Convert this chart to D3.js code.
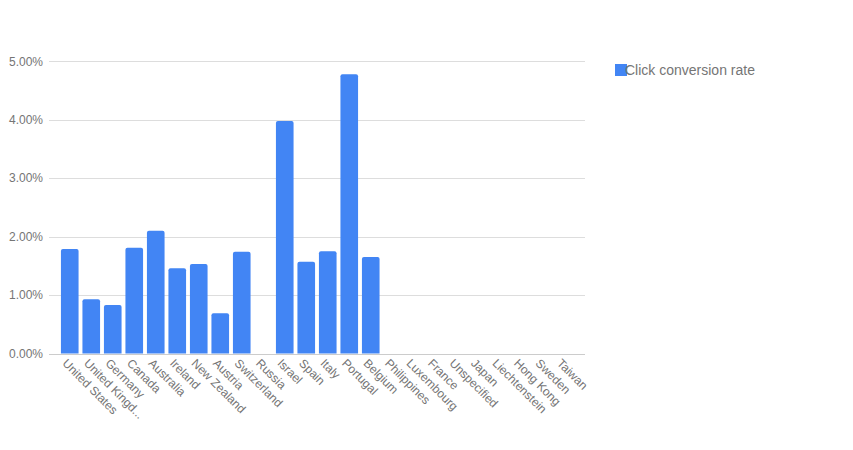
<!DOCTYPE html>
<html>
<head>
<meta charset="utf-8">
<script src="https://cdn.jsdelivr.net/npm/d3@7"></script>
<style>
  html, body { margin: 0; padding: 0; background: #fff; }
  svg { display: block; font-family: Arial, "Liberation Sans", sans-serif; }
</style>
</head>
<body>
<svg id="chart" width="853" height="450"></svg>
<script>
// Click conversion rate by country (percent)
const countries = [
  "United States", "United Kingd...", "Germany", "Canada", "Australia",
  "Ireland", "New Zealand", "Austria", "Switzerland", "Russia",
  "Israel", "Spain", "Italy", "Portugal", "Belgium",
  "Philippines", "Luxembourg", "France", "Unspecified", "Japan",
  "Liechtenstein", "Hong Kong", "Sweden", "Taiwan"
];
const conversionRate = [
  1.79, 0.93, 0.83, 1.81, 2.10,
  1.46, 1.53, 0.69, 1.74, 0,
  3.98, 1.57, 1.75, 4.78, 1.65,
  0, 0, 0, 0, 0,
  0, 0, 0, 0
];
const yTicks = [0, 1, 2, 3, 4, 5];
const seriesName = "Click conversion rate";

const svg = d3.select("#chart");
const gridLeft = 49, gridRight = 585;
const y0 = 353.5, yTop = 61.3;

const x = d3.scaleBand()
  .domain(countries)
  .range([59, 575])
  .paddingInner(0.18)
  .paddingOuter(0.09);

const y = d3.scaleLinear().domain([0, 5]).range([y0, yTop]);

// horizontal gridlines
svg.append("g").selectAll("line")
  .data(yTicks)
  .join("line")
  .attr("x1", gridLeft).attr("x2", gridRight)
  .attr("y1", d => Math.round(y(d)) + 0.5)
  .attr("y2", d => Math.round(y(d)) + 0.5)
  .attr("stroke", d => d === 0 ? "#cccccc" : "#dddddd")
  .attr("stroke-width", 1);

// y tick labels
svg.append("g").selectAll("text")
  .data(yTicks)
  .join("text")
  .attr("x", 43)
  .attr("y", d => y(d))
  .attr("dy", "0.35em")
  .attr("text-anchor", "end")
  .attr("font-size", 12)
  .attr("fill", "#757575")
  .text(d => d3.format(".2f")(d) + "%");

// bars with slightly rounded top corners
const rTop = 2;
function barPath(d, i) {
  const v = conversionRate[i];
  if (!v) return null;
  const bx = x(d), bw = x.bandwidth();
  const by = y(v), bb = y(0);
  return `M${bx},${bb}V${by + rTop}Q${bx},${by} ${bx + rTop},${by}` +
         `H${bx + bw - rTop}Q${bx + bw},${by} ${bx + bw},${by + rTop}V${bb}Z`;
}
svg.append("g").selectAll("path")
  .data(countries)
  .join("path")
  .attr("d", (d, i) => barPath(d, i))
  .attr("fill", "#4285f4");

// rotated category labels
svg.append("g").selectAll("text")
  .data(countries)
  .join("text")
  .attr("transform", d => `translate(${x(d) + x.bandwidth() / 2 - 8},${y0 + 10.5}) rotate(45)`)
  .attr("text-anchor", "start")
  .attr("font-size", 12)
  .attr("fill", "#757575")
  .text(d => d);

// legend
const legend = svg.append("g");
legend.append("rect")
  .attr("x", 615).attr("y", 64)
  .attr("width", 12).attr("height", 12)
  .attr("fill", "#4285f4");
legend.append("text")
  .attr("x", 625).attr("y", 75)
  .attr("font-size", 14)
  .attr("fill", "#757575")
  .text(seriesName);
</script>
</body>
</html>
